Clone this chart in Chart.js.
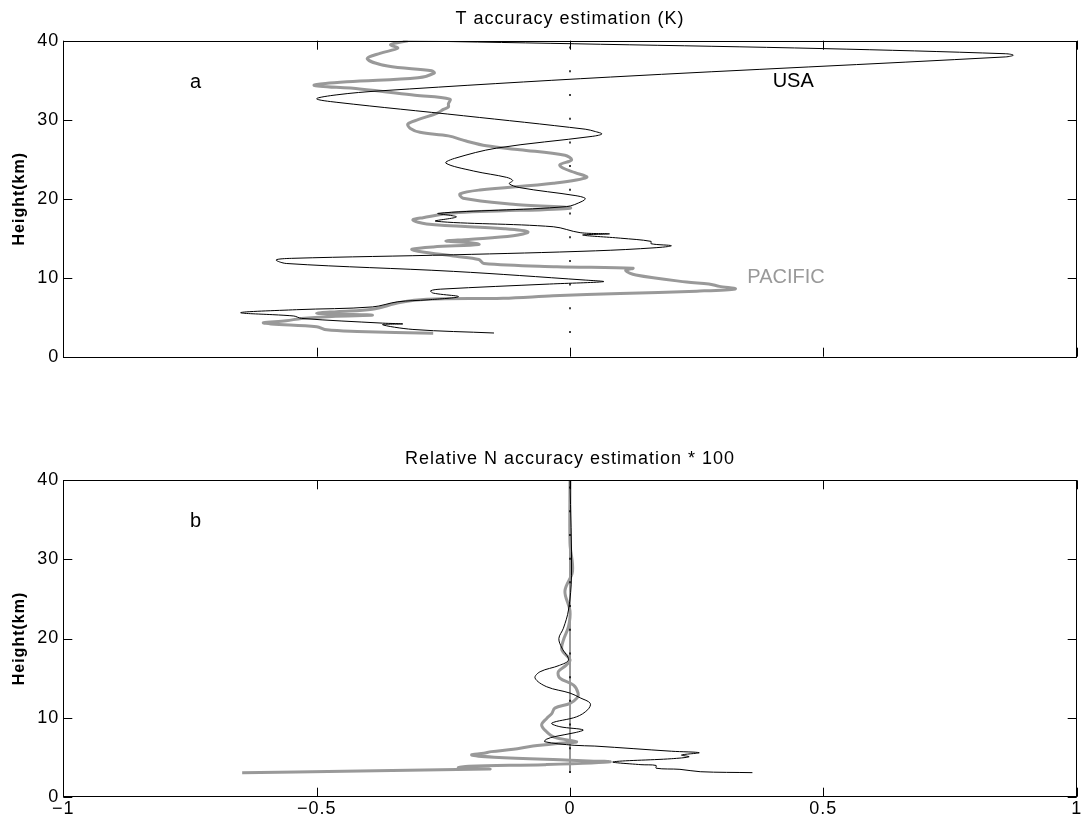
<!DOCTYPE html>
<html>
<head>
<meta charset="utf-8">
<title>T and N accuracy estimation</title>
<script src="https://cdn.jsdelivr.net/npm/chart.js@4.4.1/dist/chart.umd.min.js"></script>
<style>
    body { margin: 0; background: #fff; }
    #wrap { position: relative; width: 1084px; height: 827px; }
    canvas { position: absolute; left: 0; }
</style>
</head>
<body>
<div id="wrap">
    <canvas id="tChart" width="1084" height="440" style="top:0"></canvas>
    <canvas id="nChart" width="1084" height="387" style="top:440px"></canvas>
</div>
<script>
// heights (km) and profile values, listed bottom to top along each curve
var heightsUsaT = [
    3.0, 3.45, 4.05, 4.15, 4.25, 4.85, 5.15, 5.57, 5.95, 6.3,
    6.95, 7.2, 7.6, 8.05, 8.35, 8.55, 9.2, 9.5, 9.7, 10.8,
    11.8, 12.25, 12.45, 12.9, 13.4, 13.8, 14.05, 14.3, 14.6, 15.0,
    15.4, 15.55, 15.7, 16.45, 17.15, 17.7, 18.15, 19.0, 19.7, 20.05,
    20.4, 21.4, 21.9, 22.3, 22.7, 23.5, 24.5, 25.1, 26.4, 27.9,
    28.2, 28.5, 28.8, 30.5, 32.2, 32.65, 33.15, 33.65, 35.4, 37.95,
    38.17, 38.35, 39.0, 39.55, 40.0
];
var usaT = [
    -0.15, -0.31, -0.37, -0.33, -0.37, -0.53, -0.545, -0.65, -0.54, -0.39,
    -0.34, -0.28, -0.22, -0.27, -0.275, -0.255, -0.04, 0.066, 0.03, -0.23,
    -0.56, -0.58, -0.55, -0.23, 0.05, 0.17, 0.2, 0.16, 0.16, 0.1,
    0.025, 0.078, 0.02, -0.033, -0.265, -0.224, -0.26, -0.007, 0.025, 0.03,
    0.01, -0.099, -0.12, -0.113, -0.125, -0.19, -0.245, -0.228, -0.145, 0.045,
    0.063, 0.05, 0.03, -0.21, -0.46, -0.5, -0.46, -0.375, 0.08, 0.86,
    0.875, 0.86, 0.5, 0.06, -0.33
];

var heightsPacificT = [
    2.96, 3.2, 3.4, 3.8, 4.15, 4.3, 4.55, 4.85, 5.1, 5.25,
    5.4, 5.5, 5.7, 6.0, 6.85, 7.27, 7.4, 7.7, 8.0, 8.3,
    8.58, 8.9, 9.2, 9.45, 10.35, 10.9, 11.2, 11.4, 11.8, 12.3,
    12.7, 13.35, 13.6, 13.9, 14.2, 14.45, 14.65, 14.85, 15.3, 15.8,
    16.2, 16.8, 17.3, 17.6, 18.2, 18.8, 19.3, 20.05, 20.6, 21.1,
    21.96, 22.7, 23.3, 23.85, 24.3, 24.9, 25.5, 26.2, 26.7, 27.3,
    27.95, 28.4, 28.9, 29.45, 30.0, 30.8, 31.3, 31.6, 32.0, 32.6,
    33.1, 33.9, 34.35, 34.8, 35.3, 35.9, 36.2, 36.8, 37.7, 38.4,
    39.05, 39.5, 40.0
];
var pacificT = [
    -0.27, -0.42, -0.48, -0.5, -0.59, -0.605, -0.56, -0.53, -0.47, -0.39,
    -0.46, -0.5, -0.46, -0.39, -0.336, -0.283, -0.132, -0.033, 0.099, 0.25,
    0.326, 0.295, 0.274, 0.23, 0.13, 0.11, 0.124, -0.026, -0.17, -0.18,
    -0.225, -0.3, -0.312, -0.27, -0.18, -0.2, -0.245, -0.2, -0.112, -0.083,
    -0.13, -0.283, -0.31, -0.29, -0.23, 0.0, -0.112, -0.211, -0.217, -0.178,
    -0.033, 0.033, 0.01, -0.013, -0.02, 0.003, -0.01, -0.099, -0.165, -0.205,
    -0.24, -0.296, -0.315, -0.32, -0.3, -0.263, -0.25, -0.24, -0.24, -0.237,
    -0.306, -0.415, -0.505, -0.44, -0.3, -0.268, -0.273, -0.36, -0.4, -0.375,
    -0.34, -0.354, -0.32
];

var heightsUsaN = [
    3.04, 3.16, 3.46, 3.6, 3.95, 4.05, 4.4, 4.8, 5.05, 5.27,
    5.56, 5.75, 6.4, 6.5, 6.95, 7.25, 7.6, 8.1, 8.45, 8.85,
    9.3, 10.1, 11.0, 11.8, 12.5, 13.1, 13.9, 15.0, 15.8, 16.6,
    17.3, 18.8, 20.0, 21.3, 23.6, 28.0, 40.0
];
var usaN = [
    0.36, 0.257, 0.217, 0.17, 0.17, 0.14, 0.085, 0.2, 0.235, 0.22,
    0.255, 0.2, 0.049, 0.008, -0.05, -0.047, -0.03, 0.01, 0.026, -0.02,
    -0.036, 0.013, 0.035, 0.04, 0.02, 0.0, -0.046, -0.069, -0.059, -0.021,
    -0.003, -0.016, -0.022, -0.013, -0.003, 0.003, 0.0
];

var heightsPacificN = [
    3.03, 3.5, 3.65, 3.85, 4.05, 4.4, 4.6, 5.0, 5.27, 5.5,
    5.7, 6.0, 6.4, 6.8, 6.95, 7.5, 8.2, 9.06, 9.9, 10.5,
    11.2, 11.8, 12.5, 13.1, 14.1, 15.0, 15.8, 16.6, 17.3, 18.55,
    19.8, 21.5, 23.5, 26.0, 28.5, 32.0, 40.0
];
var pacificN = [
    -0.647, -0.16, -0.22, -0.2, -0.05, 0.079, 0.0, -0.15, -0.194, -0.17,
    -0.155, -0.112, -0.073, -0.013, 0.013, -0.03, -0.046, -0.056, -0.046, -0.036,
    -0.03, 0.0, 0.014, 0.016, 0.007, -0.02, -0.023, -0.008, 0.0, -0.016,
    -0.013, -0.003, 0.0, -0.01, 0.005, 0.0, 0.0
];

// reference line at zero
var zeroHeights = [3, 40];
var zeroValues = [0, 0];

var xTicks = [-1, -0.5, 0, 0.5, 1];
var yTicks = [0, 10, 20, 30, 40];

var GRAY = "#999999";
var FONT = "'Liberation Sans', Arial, Helvetica, sans-serif";
Chart.defaults.font.family = FONT;
Chart.defaults.color = "#000";

function toPoints(heights, values) {
    return heights.map(function (h, i) {
        return { x: values[i], y: h };
    });
}

function minusSign(v) {
    return String(v).replace("-", "\u2212");
}

// title over the plot box, box frame, inward ticks and the inside labels
var boxAxes = {
    id: "boxAxes",
    beforeDraw: function (chart) {
        chart.ctx.letterSpacing = "1px";
    },
    afterDatasetsDraw: function (chart, args, opts) {
        var ctx = chart.ctx;
        var a = chart.chartArea;
        var xs = chart.scales.x, ys = chart.scales.y;
        var len = 9;
        ctx.save();
        ctx.strokeStyle = "#000";
        ctx.lineWidth = 1;
        ctx.beginPath();
        xTicks.forEach(function (v) {
            var px = Math.round(xs.getPixelForValue(v)) + 0.5;
            ctx.moveTo(px, a.bottom); ctx.lineTo(px, a.bottom - len);
            ctx.moveTo(px, a.top); ctx.lineTo(px, a.top + len);
        });
        yTicks.forEach(function (v) {
            var py = Math.round(ys.getPixelForValue(v)) + 0.5;
            ctx.moveTo(a.left, py); ctx.lineTo(a.left + len, py);
            ctx.moveTo(a.right, py); ctx.lineTo(a.right - len, py);
        });
        ctx.stroke();
        ctx.strokeRect(Math.round(a.left) + 0.5, Math.round(a.top) + 0.5,
            Math.round(a.right - a.left), Math.round(a.bottom - a.top));

        ctx.fillStyle = "#000";
        ctx.textAlign = "center";
        ctx.textBaseline = "middle";
        ctx.font = "18px " + FONT;
        ctx.fillText(opts.title, (a.left + a.right) / 2, a.top - 21.7);

        ctx.letterSpacing = "0px";
        ctx.font = "20px " + FONT;
        ctx.textAlign = "left";
        (opts.notes || []).forEach(function (n) {
            ctx.fillStyle = n.color || "#000";
            ctx.fillText(n.text, xs.getPixelForValue(n.x), ys.getPixelForValue(n.y));
        });
        ctx.restore();
    }
};

function profileChart(canvasId, title, datasets, notes, showXLabels) {
    var canvas = document.getElementById(canvasId);
    var axisHeight = showXLabels ? 30.3 : 83.3;
    return new Chart(canvas.getContext("2d"), {
        type: "scatter",
        data: { datasets: datasets },
        options: {
            responsive: false,
            animation: false,
            events: [],
            layout: { padding: { left: 0, right: 7.3, top: showXLabels ? 40.3 : 40.7, bottom: 0 } },
            plugins: {
                legend: { display: false },
                tooltip: { enabled: false },
                title: { display: false },
                boxAxes: { title: title, notes: notes }
            },
            scales: {
                x: {
                    type: "linear",
                    min: -1,
                    max: 1,
                    grid: { display: false, drawTicks: false },
                    border: { display: false },
                    ticks: {
                        display: showXLabels,
                        stepSize: 0.5,
                        padding: 2,
                        font: { size: 18 },
                        callback: function (v) { return minusSign(v); }
                    },
                    afterFit: function (scale) { scale.height = axisHeight; }
                },
                y: {
                    min: 0,
                    max: 40,
                    grid: { display: false, drawTicks: false },
                    border: { display: false },
                    ticks: { stepSize: 10, padding: 4, font: { size: 18 } },
                    title: {
                        display: true,
                        text: "Height(km)",
                        font: { size: 16, weight: "bold" },
                        padding: { top: 10, bottom: 0 }
                    },
                    afterFit: function (scale) { scale.width = 63.3; }
                }
            }
        },
        plugins: [boxAxes]
    });
}

function line(points, color, width, extra) {
    var ds = {
        data: points,
        showLine: true,
        borderColor: color,
        borderWidth: width,
        pointRadius: 0,
        tension: 0.35
    };
    return Object.assign(ds, extra || {});
}

document.addEventListener("DOMContentLoaded", function () {
    var dotted = { borderDash: [2, 21.7], tension: 0 };

    // a: temperature
    profileChart("tChart", "T accuracy estimation (K)", [
        line(toPoints(zeroHeights, zeroValues), "#000", 1.5, dotted),
        line(toPoints(heightsUsaT, usaT), "#000", 1),
        line(toPoints(heightsPacificT, pacificT), GRAY, 3)
    ], [
        { x: -0.75, y: 34.7, text: "a" },
        { x: 0.4, y: 34.8, text: "USA" },
        { x: 0.35, y: 10, text: "PACIFIC", color: GRAY }
    ], false);

    // b: refractivity
    profileChart("nChart", "Relative N accuracy estimation * 100", [
        line(toPoints(zeroHeights, zeroValues), "#000", 1.5, dotted),
        line(toPoints(heightsUsaN, usaN), "#000", 1),
        line(toPoints(heightsPacificN, pacificN), GRAY, 3),
        line(toPoints(zeroHeights, zeroValues), GRAY, 2, { tension: 0 })
    ], [
        { x: -0.75, y: 34.8, text: "b" }
    ], true);
});
</script>
</body>
</html>
